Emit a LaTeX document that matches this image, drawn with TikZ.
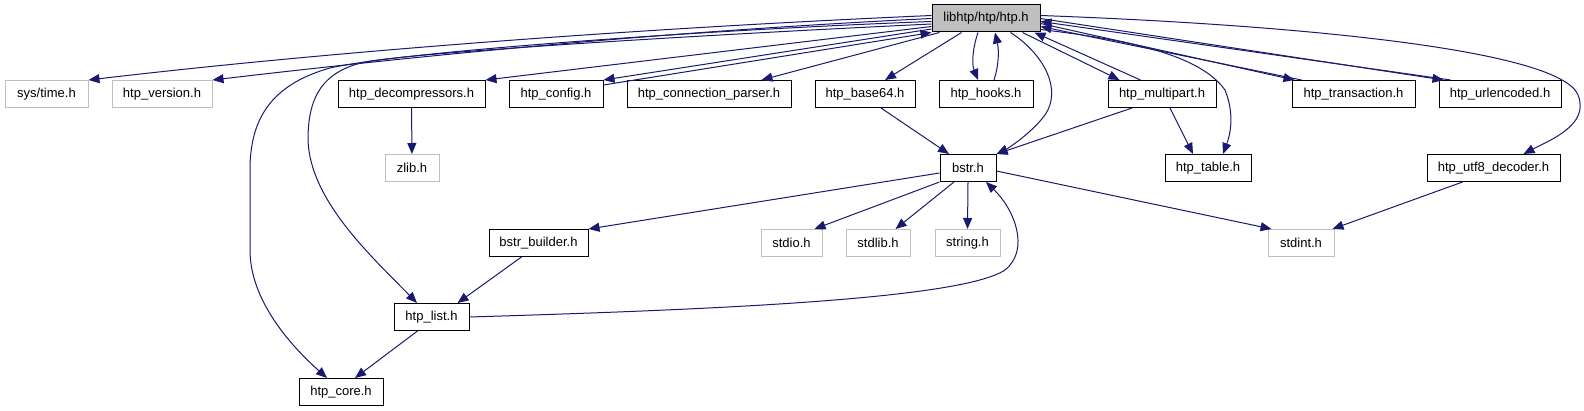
\documentclass[tikz,border=0pt]{standalone}
\usepackage{fontspec}
\setmainfont{Liberation Sans}
\usetikzlibrary{arrows.meta}
\definecolor{edge}{HTML}{191970}
\definecolor{rootfill}{HTML}{BFBFBF}
\definecolor{extgray}{HTML}{BFBFBF}
\tikzset{
  filebox/.style={draw=black, fill=white, line width=1pt, inner sep=0pt, minimum height=27pt, font=\fontsize{13}{15}\selectfont, text=black},
  rootbox/.style={filebox, fill=rootfill},
  sysbox/.style={filebox, draw=extgray},
  incarrow/.style={-{Triangle[length=11pt,width=9pt]}, line width=1pt, draw=edge}
}
\begin{document}
\begin{tikzpicture}[x=1pt,y=-1pt]
\fill[white] (0,0) rectangle (1584,411);
\useasboundingbox (0,0) rectangle (1584,411);
% top
\node[rootbox, minimum width=108pt] (htp) at (986,18.5) {libhtp/htp/htp.h};
% second row
\node[sysbox, minimum width=83pt] (systime) at (46.5,94) {sys/time.h};
\node[sysbox, minimum width=100pt] (version) at (162,94) {htp\_version.h};
\node[filebox, minimum width=147pt] (decomp) at (411.5,94) {htp\_decompressors.h};
\node[filebox, minimum width=94pt] (config) at (556,94) {htp\_config.h};
\node[filebox, minimum width=164pt] (connparser) at (709,94) {htp\_connection\_parser.h};
\node[filebox, minimum width=100pt] (base64) at (865,94) {htp\_base64.h};
\node[filebox, minimum width=94pt] (hooks) at (986,94) {htp\_hooks.h};
\node[filebox, minimum width=108pt] (multipart) at (1162,94) {htp\_multipart.h};
\node[filebox, minimum width=123pt] (transaction) at (1353.5,94) {htp\_transaction.h};
\node[filebox, minimum width=122pt] (urlencoded) at (1500,94) {htp\_urlencoded.h};
% third row
\node[sysbox, minimum width=54pt] (zlib) at (412,168) {zlib.h};
\node[filebox, minimum width=56pt] (bstr) at (968,168) {bstr.h};
\node[filebox, minimum width=86pt] (table) at (1208,168) {htp\_table.h};
\node[filebox, minimum width=133pt] (utf8) at (1493.5,168) {htp\_utf8\_decoder.h};
% fourth row
\node[filebox, minimum width=99pt] (bstrbuilder) at (538.5,243) {bstr\_builder.h};
\node[sysbox, minimum width=61pt] (stdio) at (791.5,243) {stdio.h};
\node[sysbox, minimum width=64pt] (stdlib) at (878,243) {stdlib.h};
\node[sysbox, minimum width=65pt] (string) at (967.5,243) {string.h};
\node[sysbox, minimum width=66pt] (stdint) at (1301,243) {stdint.h};
% bottom
\node[filebox, minimum width=75pt] (list) at (431.5,317) {htp\_list.h};
\node[filebox, minimum width=84pt] (core) at (341,392) {htp\_core.h};
% includes of htp.h, left side
\draw[incarrow] ([yshift=3pt]htp.west) .. controls (600,30) and (300,55) .. (systime.north east);
\draw[incarrow] (htp.west) .. controls (650,32) and (400,58) .. (version.north east);
\draw[incarrow] ([yshift=-3pt]htp.west) .. controls (700,30) and (400,52) .. (330,68) .. controls (270,85) and (250,120) .. (250,170) -- (250,250) .. controls (250,300) and (290,345) .. ([xshift=-14pt]core.north);
\draw[incarrow] ([yshift=-5.5pt]htp.west) .. controls (700,35) and (420,52) .. (365,62) .. controls (320,72) and (308,100) .. (308,140) .. controls (310,200) and (370,255) .. ([xshift=-14.5pt]list.north);
\draw[incarrow] ([yshift=-8pt]htp.west) -- (decomp.north east);
\draw[incarrow] ([yshift=-10.5pt]htp.west) -- (config.north east);
\draw[incarrow] ([yshift=-5pt]config.north east) -- (htp.south west);
\draw[incarrow] ([xshift=8pt]htp.south west) -- ([xshift=-30pt]connparser.north east);
\draw[incarrow] ([xshift=30pt]htp.south west) -- ([xshift=20pt]base64.north);
% hooks
\draw[incarrow] ([xshift=-8pt]htp.south) .. controls (972,50) and (972,65) .. ([xshift=-8pt]hooks.north);
\draw[incarrow] ([xshift=8pt]hooks.north) .. controls (999,65) and (999,50) .. ([xshift=9pt]htp.south);
% includes of htp.h, right side
\draw[incarrow] ([xshift=-30pt]htp.south east) .. controls (1045,55) and (1062,90) .. (1045,115) .. controls (1030,135) and (1005,150) .. (bstr.north east);
\draw[incarrow] ([xshift=-18pt]htp.south east) -- ([xshift=12pt]multipart.north west);
\draw[incarrow] ([xshift=33pt]multipart.north west) -- ([xshift=-6pt]htp.south east);
\draw[incarrow] ([yshift=-11pt]htp.east) .. controls (1130,40) and (1200,55) .. (1225,90) .. controls (1235,115) and (1230,135) .. ([xshift=15pt]table.north);
\draw[incarrow] ([yshift=-5pt]htp.east) -- ([xshift=3pt]transaction.north west);
\draw[incarrow] ([xshift=10pt]transaction.north west) -- ([yshift=-8pt]htp.east);
\draw[incarrow] (htp.east) -- ([xshift=5pt]urlencoded.north west);
\draw[incarrow] ([xshift=12pt]urlencoded.north west) -- ([yshift=-3pt]htp.east);
\draw[incarrow] ([yshift=3pt]htp.east) .. controls (1300,25) and (1560,50) .. (1578,95) .. controls (1590,125) and (1550,140) .. ([xshift=30pt]utf8.north);
% second row down
\draw[incarrow] (decomp) -- (zlib);
\draw[incarrow] ([xshift=16pt]base64.south) -- ([xshift=-19pt]bstr.north);
\draw[incarrow] ([xshift=-30pt]multipart.south) -- (bstr.north east);
\draw[incarrow] ([xshift=8pt]multipart.south) -- ([xshift=-15pt]table.north);
\draw[incarrow] ([xshift=-31pt]utf8.south) -- ([xshift=-2pt]stdint.north east);
% bstr.h
\draw[incarrow] ([yshift=-5pt]bstr.west) -- (bstrbuilder.north east);
\draw[incarrow] (bstr.south west) -- ([xshift=-8pt]stdio.north east);
\draw[incarrow] ([xshift=-14pt]bstr.south) -- ([xshift=-15pt]stdlib.north east);
\draw[incarrow] (bstr.south) -- (string.north);
\draw[incarrow] ([yshift=-3pt]bstr.east) -- ([xshift=4pt]stdint.north west);
% lower part
\draw[incarrow] ([xshift=-17pt]bstrbuilder.south) -- ([xshift=-12pt]list.north east);
\draw[incarrow] (list.east) .. controls (700,310) and (960,300) .. (1005,270) .. controls (1030,250) and (1015,210) .. ([xshift=18pt]bstr.south);
\draw[incarrow] ([xshift=-14pt]list.south) -- ([xshift=14pt]core.north);
\end{tikzpicture}
\end{document}
